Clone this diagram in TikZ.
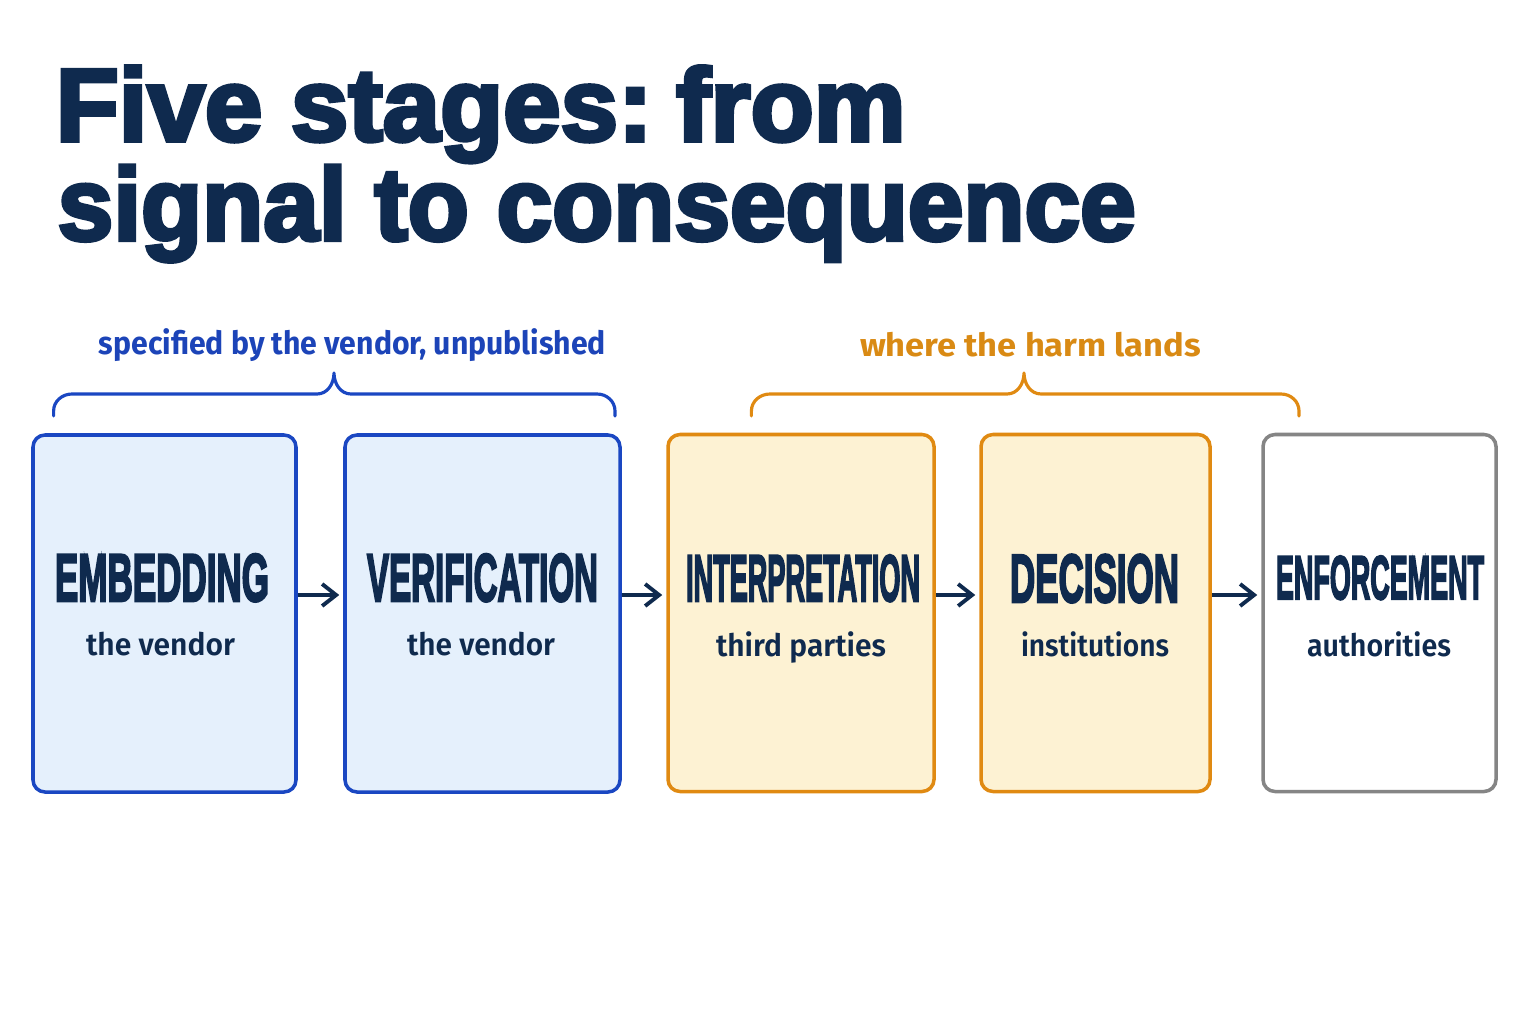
\documentclass[tikz,border=0pt]{standalone}
\usepackage{fontspec}
\usepackage{graphicx}
\usetikzlibrary{arrows.meta}
\setmainfont{Liberation Sans}
\newfontfamily\headfont[FakeBold=4]{Liberation Sans Bold}
\newfontfamily\stagefont[FakeBold=4]{Liberation Sans Bold}
\newfontfamily\notefont{Fira Sans SemiBold}
\newfontfamily\bracefont{Fira Sans Bold}
\definecolor{navy}{HTML}{0F2A4E}
\definecolor{vblue}{HTML}{1A47C2}
\definecolor{vfill}{HTML}{E5F0FC}
\definecolor{vtext}{HTML}{1C44B8}
\definecolor{horange}{HTML}{E08A12}
\definecolor{hfill}{HTML}{FDF2D3}
\definecolor{htext}{HTML}{D98A14}
\definecolor{lgray}{HTML}{858585}
\newcommand{\sq}[2]{\resizebox{#1}{\height}{#2}}
\newcommand{\stg}[3]{\resizebox{#1}{#2}{\stagefont #3}}
\newcommand{\who}[2]{\notefont\fontsize{8.8pt}{10pt}\selectfont\sq{#1}{#2}}

\begin{document}
\begin{tikzpicture}[
    stage/.style={rectangle,rounded corners=1.2mm,line width=1pt,minimum height=3.57cm},
    vendor/.style={stage,draw=vblue,fill=vfill},
    harm/.style={stage,draw=horange,fill=hfill},
    last/.style={stage,draw=lgray,fill=white},
    lbl/.style={anchor=base,inner sep=0pt,text=navy},
    flow/.style={-{Straight Barb[length=1.4mm,width=2.2mm]},line width=1.1pt,draw=navy,shorten >=0.4mm},
    brc/.style={line width=0.9pt,line cap=round,line join=round}]
    \useasboundingbox (0,0) rectangle (15.36,10.24);

    \node[lbl,anchor=base west] (title1) at (0.55,8.833)
      {\headfont\fontsize{29.3pt}{30pt}\selectfont\sq{8.50cm}{Five stages:\hspace{0.23em}from}};
    \node[lbl,anchor=base west] (title2) at (0.57,7.84)
      {\headfont\fontsize{29.3pt}{30pt}\selectfont\sq{10.78cm}{signal to consequence}};

    \node[vendor,minimum width=2.63cm] (emb) at (1.645,4.105) {};
    \node[vendor,minimum width=2.75cm] (ver) at (4.825,4.105) {};
    \node[harm,minimum width=2.66cm] (int) at (8.01,4.11) {};
    \node[harm,minimum width=2.29cm] (dec) at (10.955,4.11) {};
    \node[last,minimum width=2.33cm] (enf) at (13.795,4.11) {};

    \node[lbl] (embname) at (1.62,4.23) {\stg{2.14cm}{0.47cm}{EMBEDDING}};
    \node[lbl] (vername) at (4.825,4.23) {\stg{2.31cm}{0.47cm}{VERIFICATION}};
    \node[lbl] (intname) at (8.03,4.23) {\stg{2.34cm}{0.46cm}{INTERPRETATION}};
    \node[lbl] (decname) at (10.945,4.22) {\stg{1.69cm}{0.475cm}{DECISION}};
    \node[lbl] (enfname) at (13.80,4.25) {\stg{2.08cm}{0.43cm}{ENFORCEMENT}};

    \node[lbl] (embwho) at (1.605,3.69) {\who{1.49cm}{the vendor}};
    \node[lbl] (verwho) at (4.81,3.69) {\who{1.48cm}{the vendor}};
    \node[lbl] (intwho) at (8.01,3.68) {\who{1.70cm}{third parties}};
    \node[lbl] (decwho) at (10.95,3.68) {\who{1.48cm}{institutions}};
    \node[lbl] (enfwho) at (13.79,3.68) {\who{1.44cm}{authorities}};

    \draw[flow] ([yshift=1.85mm]emb.east) -- ([yshift=1.85mm]ver.west);
    \draw[flow] ([yshift=1.85mm]ver.east) -- ([yshift=1.8mm]int.west);
    \draw[flow] ([yshift=1.8mm]int.east) -- ([yshift=1.8mm]dec.west);
    \draw[flow] ([yshift=1.8mm]dec.east) -- ([yshift=1.8mm]enf.west);

    % braces over the two groups
    \draw[brc,draw=vblue] (0.536,6.08) -- (0.536,6.13) to[out=90,in=180] (0.72,6.30)
      -- (3.17,6.30) to[out=0,in=-90] (3.34,6.51) to[out=-90,in=180] (3.51,6.30)
      -- (5.97,6.30) to[out=0,in=90] (6.15,6.13) -- (6.15,6.08);
    \draw[brc,draw=horange] (7.514,6.08) -- (7.514,6.13) to[out=90,in=180] (7.70,6.30)
      -- (10.07,6.30) to[out=0,in=-90] (10.24,6.51) to[out=-90,in=180] (10.41,6.30)
      -- (12.81,6.30) to[out=0,in=90] (12.99,6.13) -- (12.99,6.08);

    \node[lbl,text=vtext] (vendnote) at (3.525,6.69)
      {\bracefont\fontsize{9.1pt}{10pt}\selectfont\sq{5.07cm}{specified by the vendor, unpublished}};
    \node[lbl,text=htext] (harmnote) at (10.305,6.68)
      {\bracefont\fontsize{9.1pt}{10pt}\selectfont\sq{3.41cm}{where the harm lands}};
  \end{tikzpicture}
\end{document}
